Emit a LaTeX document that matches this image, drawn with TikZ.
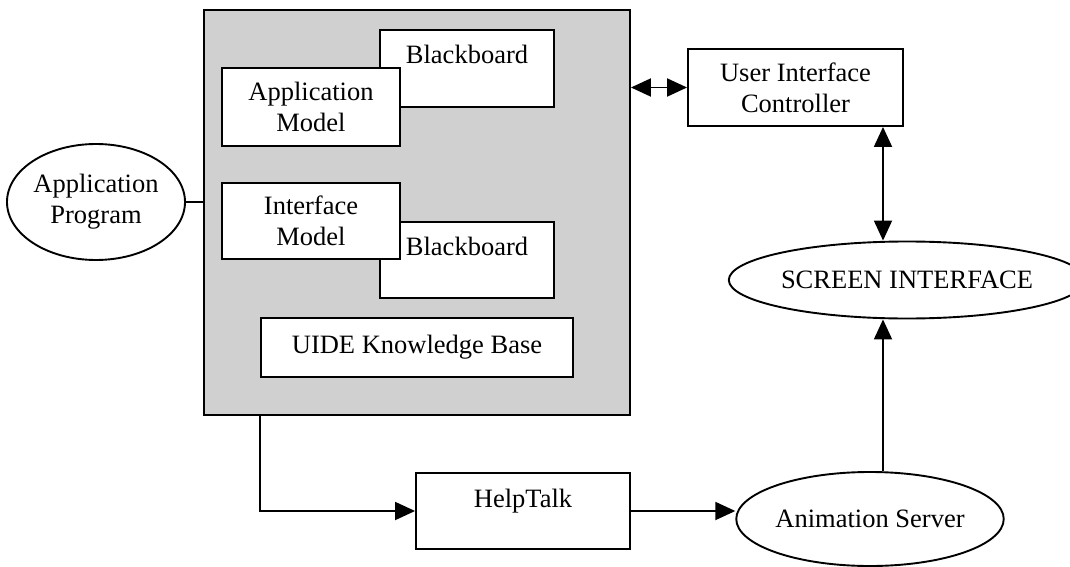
\documentclass[tikz,border=0pt]{standalone}
\usepackage{fontspec}
\setmainfont{Liberation Serif}
\usetikzlibrary{arrows.meta,shapes.geometric}
\definecolor{panelgray}{RGB}{208,208,208}
\begin{document}
\begin{tikzpicture}[x=1pt,y=-1pt,
  every node/.style={font=\fontsize{26.5pt}{31pt}\selectfont, line width=1.9pt, inner sep=0pt},
  box/.style={draw=black, fill=white, rectangle, align=center},
  oval/.style={draw=black, fill=white, ellipse, align=center},
  toptext/.style={text height=0pt, text depth=9pt},
  conn/.style={line width=1.9pt, draw=black},
  arr/.style={conn, -{Triangle[length=20pt,width=18pt]}},
  darr/.style={conn, {Triangle[length=20pt,width=18pt]}-{Triangle[length=20pt,width=18pt]}}
]
\useasboundingbox (0,0) rectangle (1070,567);

\node[box, fill=panelgray, minimum width=426pt, minimum height=405pt] (main) at (417,212.5) {};
\node[box, toptext, minimum width=174pt, minimum height=77pt] (bb1) at (467,68.5) {Blackboard};
\node[box, minimum width=178pt, minimum height=78pt] (am) at (311,107) {Application\\Model};
\node[box, toptext, minimum width=174pt, minimum height=76pt] (bb2) at (467,260) {Blackboard};
\node[box, minimum width=178pt, minimum height=76pt] (im) at (311,221) {Interface\\Model};
\node[box, minimum width=312pt, minimum height=59pt] (kb) at (417,347.5) {UIDE Knowledge Base};
\node[box, minimum width=215pt, minimum height=77pt] (uic) at (795.5,87.5) {User Interface\\Controller};
\node[oval, minimum width=324pt, minimum height=77pt] (scr) at (907,280) {SCREEN INTERFACE};
\node[oval, minimum width=178pt, minimum height=116pt] (ap) at (96,202) {Application\\Program};
\node[box, text height=0pt, text depth=8pt, minimum width=214pt, minimum height=76pt] (help) at (523,511) {HelpTalk};
\node[oval, minimum width=256pt, minimum height=94pt] (anim) at (870,519) {Animation Server};

\coordinate (xr) at (883,0);
\coordinate (xl) at (260,0);

\draw[conn] (ap.east) -- (ap.east -| main.west);
\draw[darr] (uic.west -| main.east) -- (uic.west);
\draw[darr] (uic.south -| xr) -- (scr.north -| xr);
\draw[arr] (anim.north -| xr) -- (scr.south -| xr);
\draw[arr] (main.south -| xl) |- (help.west);
\draw[arr] (help.east) -- (help.east -| anim.west);
\end{tikzpicture}
\end{document}
